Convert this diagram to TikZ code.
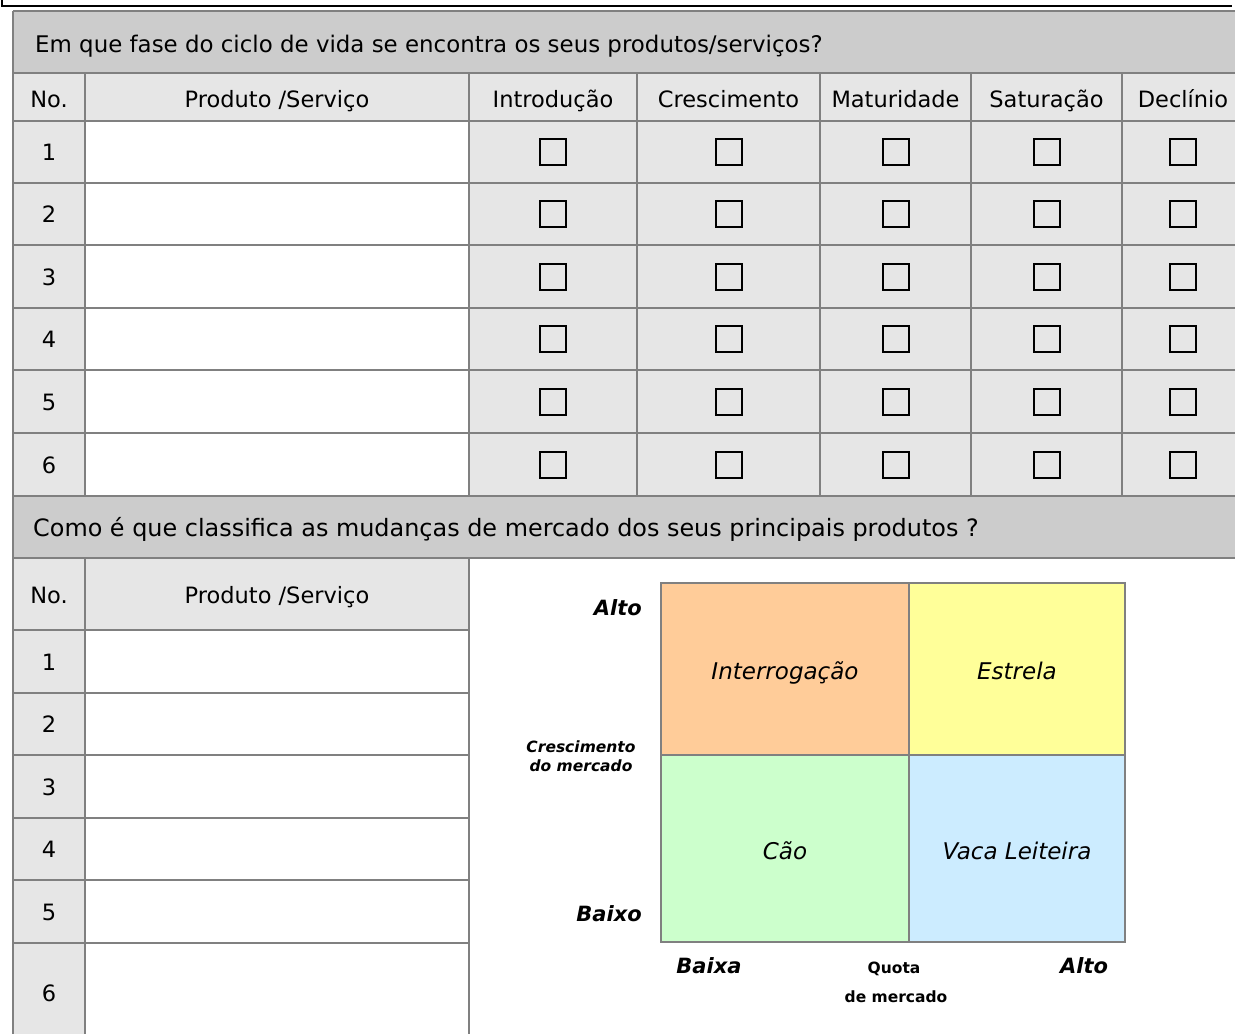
\documentclass[tikz,border=0pt]{standalone}
\usepackage{fontspec}
\setmainfont{DejaVu Sans}
\definecolor{hdr}{HTML}{CCCCCC}
\definecolor{cellg}{HTML}{E6E6E6}
\definecolor{gridc}{HTML}{808080}
\definecolor{qorange}{HTML}{FFCC99}
\definecolor{qyellow}{HTML}{FFFF99}
\definecolor{qgreen}{HTML}{CCFFCC}
\definecolor{qblue}{HTML}{CCECFF}
\begin{document}
\begin{tikzpicture}[x=1pt,y=-1pt,
  txt/.style={anchor=base,inner sep=0pt,font=\fontsize{22.5}{27}\selectfont},
  sec1/.style={anchor=base west,inner sep=0pt,font=\fontsize{22.9}{27}\selectfont},
  sec2/.style={anchor=base west,inner sep=0pt,font=\fontsize{23.9}{28}\selectfont},
  qtxt/.style={anchor=base,inner sep=0pt,font=\fontsize{23}{28}\selectfont\itshape},
  axlab/.style={anchor=base,inner sep=0pt,font=\fontsize{21}{25}\selectfont\bfseries\itshape},
  smlab/.style={anchor=base,inner sep=0pt,font=\fontsize{15.5}{19}\selectfont\bfseries},
  smilab/.style={anchor=base,inner sep=0pt,font=\fontsize{15.5}{19}\selectfont\bfseries\itshape},
  cbox/.style={draw=black,line width=1.5pt,minimum size=26pt,inner sep=0pt},
  gridline/.style={draw=gridc,line width=1.5pt},
  quad/.style={draw=gridc,line width=1.8pt}
]
\useasboundingbox (0,0) rectangle (1235,1034);
\clip (0,0) rectangle (1235,1034);
% top frame
\draw[line width=2pt] (1.5,0) -- (1.5,6) -- (1232,6);
% fills
\fill[hdr] (13,11) rectangle (1245,73);
\fill[cellg] (13,73) rectangle (1245,121);
\fill[cellg] (13,121) rectangle (85,496);
\fill[white] (85,121) rectangle (469,496);
\fill[cellg] (469,121) rectangle (1245,496);
\fill[hdr] (13,496) rectangle (1245,558);
\fill[cellg] (13,558) rectangle (469,630);
\fill[cellg] (13,630) rectangle (85,1040);
% grid lines
\foreach \y in {11,73,121,183,245,308,370,433,496,558} \draw[gridline] (13,\y) -- (1245,\y);
\foreach \y in {630,693,755,818,880,943} \draw[gridline] (13,\y) -- (469,\y);
\draw[gridline] (13,11) -- (13,1040);
\foreach \x in {85,469} {\draw[gridline] (\x,73) -- (\x,496); \draw[gridline] (\x,558) -- (\x,1040);}
\foreach \x in {637,820,971,1122} \draw[gridline] (\x,73) -- (\x,496);
% section 1
\node[sec1] (q1) at (35,52) {Em que fase do ciclo de vida se encontra os seus produtos/serviços?};
\node[txt] (h-no) at (49,107) {No.};
\node[txt] (h-prod) at (277,107) {Produto /Serviço};
\node[txt] (h-intro) at (553,107) {Introdução};
\node[txt] (h-cresc) at (728.5,107) {Crescimento};
\node[txt] (h-mat) at (895.5,107) {Maturidade};
\node[txt] (h-sat) at (1046.5,107) {Saturação};
\node[txt] (h-dec) at (1183,107) {Declínio};
\foreach \n/\c in {1/152,2/214,3/277,4/339,5/402,6/465} {
  \node[txt] (n\n) at (49,\c+8) {\n};
  \foreach \k/\x in {a/553,b/729,c/896,d/1047,e/1183}
    \node[cbox] (cb-\n-\k) at (\x,\c) {};
}
% section 2
\node[sec2] (q2) at (33,536) {Como é que classifica as mudanças de mercado dos seus principais produtos ?};
\node[txt] (h2-no) at (49,603) {No.};
\node[txt] (h2-prod) at (277,603) {Produto /Serviço};
\foreach \n/\c in {1/661.5,2/724,3/786.5,4/849,5/911.5,6/992.5} {
  \node[txt] (m\n) at (49,\c+8.5) {\n};
}
% matrix
\fill[qorange] (661,583) rectangle (909,755);
\fill[qyellow] (909,583) rectangle (1125,755);
\fill[qgreen] (661,755) rectangle (909,942);
\fill[qblue] (909,755) rectangle (1125,942);
\draw[quad] (661,583) rectangle (1125,942);
\draw[quad] (909,583) -- (909,942);
\draw[quad] (661,755) -- (1125,755);
\node[qtxt] (qa) at (785,679) {Interrogação};
\node[qtxt] (qb) at (1017,679) {Estrela};
\node[qtxt] (qc) at (785,859) {Cão};
\node[qtxt] (qd) at (1017,859) {Vaca Leiteira};
\node[axlab,anchor=base east] (yhi) at (642,615) {Alto};
\node[axlab,anchor=base east] (ylo) at (642,921) {Baixo};
\node[smilab] (yl1) at (581,752) {Crescimento};
\node[smilab] (yl2) at (581,771) {do mercado};
\node[axlab] (xlo) at (709,973) {Baixa};
\node[axlab] (xhi) at (1084,973) {Alto};
\node[smlab] (xl1) at (894,973) {Quota};
\node[smlab] (xl2) at (896,1002) {de mercado};
\end{tikzpicture}
\end{document}
